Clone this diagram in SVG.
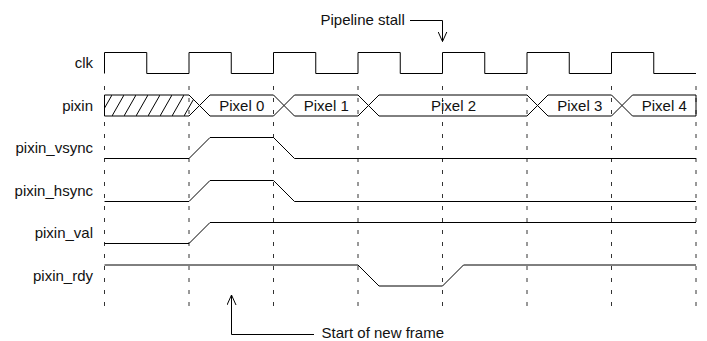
<svg xmlns="http://www.w3.org/2000/svg" width="707" height="341" viewBox="0 0 707 341">
<style>
.lbl{font-family:"Liberation Sans",Arial,sans-serif;font-size:15px;fill:#111;text-anchor:end}
.txt{font-family:"Liberation Sans",Arial,sans-serif;font-size:15px;fill:#111}
.ctr{font-family:"Liberation Sans",Arial,sans-serif;font-size:15px;fill:#111;text-anchor:middle}
.sig{fill:none;stroke:#000;stroke-width:1}
.grid{fill:none;stroke:#333;stroke-width:1;stroke-dasharray:4 8}
</style>
<defs>
<pattern id="hatch" patternUnits="userSpaceOnUse" x="100" y="95" width="12" height="21">
<path d="M-1,22.75 L13,-1.75" stroke="#000" stroke-width="1" fill="none"/>
</pattern>
<marker id="open" viewBox="0 0 10 10" refX="10" refY="5" markerWidth="10" markerHeight="10" markerUnits="userSpaceOnUse" orient="auto">
<path d="M0,0.5 L10,5 L0,9.5" fill="none" stroke="#000" stroke-width="1"/>
</marker>
</defs>
<rect width="707" height="341" fill="#fff"/>
<g id="grid">
<line class="grid" x1="104.5" y1="86" x2="104.5" y2="311"/>
<line class="grid" x1="189" y1="86" x2="189" y2="311"/>
<line class="grid" x1="273.5" y1="86" x2="273.5" y2="311"/>
<line class="grid" x1="358" y1="86" x2="358" y2="311"/>
<line class="grid" x1="442.5" y1="86" x2="442.5" y2="311"/>
<line class="grid" x1="527" y1="86" x2="527" y2="311"/>
<line class="grid" x1="611.5" y1="86" x2="611.5" y2="311"/>
<line class="grid" x1="696" y1="86" x2="696" y2="311"/>
</g>
<g id="clk">
<text class="lbl" x="93" y="68">clk</text>
<path class="sig" d="M104.5,73.5 V52.5 H146.75 V73.5 H189 V52.5 H231.25 V73.5 H273.5 V52.5 H315.75 V73.5 H358 V52.5 H400.25 V73.5 H442.5 V52.5 H484.75 V73.5 H527 V52.5 H569.25 V73.5 H611.5 V52.5 H653.75 V73.5 H696"/>
</g>
<g id="pixin">
<text class="lbl" x="93" y="110.5">pixin</text>
<path d="M104.5,95 H189 L199.5,105.5 L189,116 H104.5 Z" fill="url(#hatch)" stroke="#000" stroke-width="1"/>
<path class="sig" d="M199.5,105.5 L210,95 H273.5 L284,105.5 L273.5,116 H210 Z"/>
<path class="sig" d="M284,105.5 L294.5,95 H358 L368.5,105.5 L358,116 H294.5 Z"/>
<path class="sig" d="M368.5,105.5 L379,95 H527 L537.5,105.5 L527,116 H379 Z"/>
<path class="sig" d="M537.5,105.5 L548,95 H611.5 L622,105.5 L611.5,116 H548 Z"/>
<path class="sig" d="M622,105.5 L632.5,95 H696 V116 H632.5 Z"/>
<text class="ctr" x="241.75" y="110.5">Pixel 0</text>
<text class="ctr" x="326.25" y="110.5">Pixel 1</text>
<text class="ctr" x="453.5" y="110.5">Pixel 2</text>
<text class="ctr" x="579.75" y="110.5">Pixel 3</text>
<text class="ctr" x="664.25" y="110.5">Pixel 4</text>
</g>
<g id="pixin_vsync">
<text class="lbl" x="93" y="153">pixin_vsync</text>
<path class="sig" d="M104.5,158.5 H189 L210,137.5 H273.5 L294.5,158.5 H696"/>
</g>
<g id="pixin_hsync">
<text class="lbl" x="93" y="195.5">pixin_hsync</text>
<path class="sig" d="M104.5,201.5 H189 L210,180.5 H273.5 L294.5,201.5 H696"/>
</g>
<g id="pixin_val">
<text class="lbl" x="93" y="238">pixin_val</text>
<path class="sig" d="M104.5,243.5 H189 L210,222.5 H696"/>
</g>
<g id="pixin_rdy">
<text class="lbl" x="93" y="280.5">pixin_rdy</text>
<path class="sig" d="M104.5,265 H358 L379,286 H442.5 L463.5,265 H696"/>
</g>
<g id="connectors">
<path class="sig" d="M314,334.5 H231.5 V295" marker-end="url(#open)"/>
<path class="sig" d="M410,20.5 H442.5 V41.5" marker-end="url(#open)"/>
</g>
<g id="annotations">
<text class="txt" x="320.5" y="25">Pipeline stall</text>
<text class="txt" x="321.5" y="337.5">Start of new frame</text>
</g>
</svg>
